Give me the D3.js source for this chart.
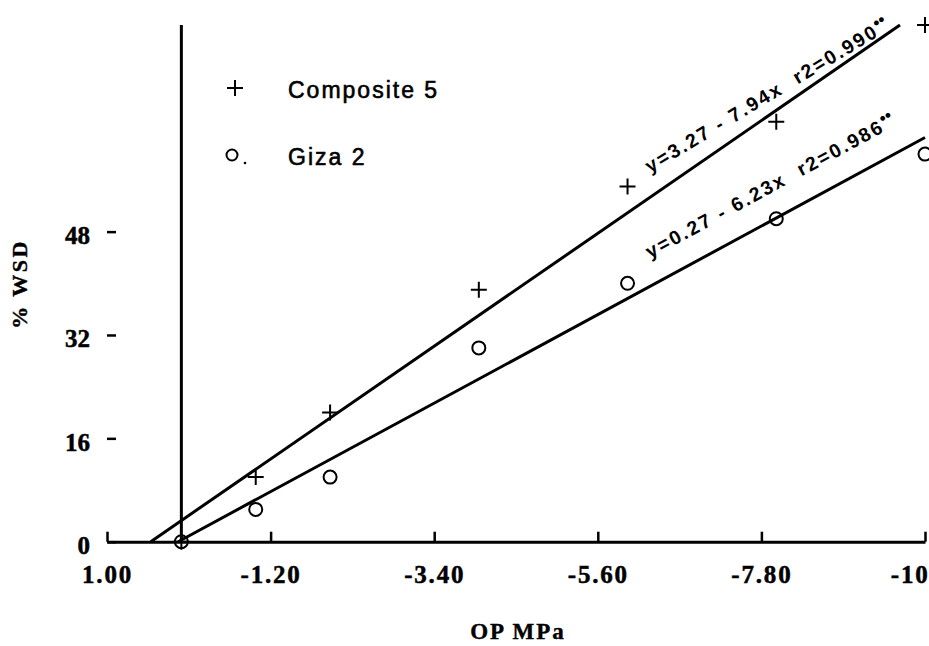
<!DOCTYPE html>
<html>
<head>
<meta charset="utf-8">
<script src="https://cdn.jsdelivr.net/npm/d3@7"></script>
<style>
  body { margin: 0; background: #fff; }
  svg { display: block; }
</style>
</head>
<body>
<div id="chart"></div>
<script>
// datos
const opMPa = [0, -1, -2, -4, -6, -8, -10];
const composite5 = [0, 10, 20, 39, 55, 65, 80];
const giza2 = [0, 5, 10, 30, 40, 50, 60];

const xTickValues = [1, -1.2, -3.4, -5.6, -7.8, -10];
const xTickLabels = ["1.00", "-1.20", "-3.40", "-5.60", "-7.80", "-10"];
const yTickValues = [0, 16, 32, 48];

// rectas de regresion (de las ecuaciones impresas)
const fitNames = ["Composite 5", "Giza 2"];
const fitIntercepts = [3.27, 0.27];
const fitSlopes = [-7.94, -6.23];
const fitR2 = ["0.990", "0.986"];

const width = 929, height = 646;
const serif = "Liberation Serif";
const sans = "Liberation Sans";

const svg = d3.select('#chart').append('svg')
    .attr('width', width)
    .attr('height', height);

const x = d3.scaleLinear().domain([1, -10]).range([107, 925]);
const y = d3.scaleLinear().domain([0, 80]).range([541.7, 24.9]);

// eje X
const xAxis = svg.append('g')
    .attr('transform', `translate(0,${y(0)})`)
    .call(d3.axisBottom(x)
        .tickValues(xTickValues)
        .tickFormat((d, i) => xTickLabels[i])
        .tickSize(-10)
        .tickSizeOuter(0)
        .tickPadding(24));
xAxis.attr('font-family', serif).attr('font-size', 25).attr('font-weight', 'bold');
xAxis.select('.domain').attr('stroke', '#000').attr('stroke-width', 3);
xAxis.selectAll('.tick line').attr('stroke', '#000').attr('stroke-width', 2.5);
xAxis.selectAll('.tick text')
    .attr('fill', '#000')
    .attr('stroke', '#000')
    .attr('stroke-width', 0.5)
    .attr('letter-spacing', 1.8);
xAxis.selectAll('.tick text').filter((d, i) => i === xTickValues.length - 1)
    .attr('text-anchor', 'end')
    .attr('x', 4);

// eje Y (solo marcas)
const yAxis = svg.append('g')
    .attr('transform', 'translate(116,0)')
    .call(d3.axisLeft(y)
        .tickValues(yTickValues)
        .tickSize(9)
        .tickPadding(17));
yAxis.attr('font-family', serif).attr('font-size', 25).attr('font-weight', 'bold');
yAxis.select('.domain').remove();
yAxis.selectAll('.tick line').attr('stroke', '#000').attr('stroke-width', 2.5);
yAxis.selectAll('.tick text')
    .attr('fill', '#000')
    .attr('stroke', '#000')
    .attr('stroke-width', 0.5)
    .attr('dy', '0.47em');

// linea vertical en x = 0
svg.append('line')
    .attr('x1', x(0)).attr('x2', x(0))
    .attr('y1', y(0)).attr('y2', y(80))
    .attr('stroke', '#000')
    .attr('stroke-width', 3);

// rectas de regresion
fitIntercepts.forEach((b, i) => {
    const m = fitSlopes[i];
    const x0 = -b / m;
    const x1 = Math.max(-10, (80 - b) / m);
    svg.append('line')
        .attr('x1', x(x0)).attr('y1', y(b + m * x0))
        .attr('x2', x(x1)).attr('y2', y(b + m * x1))
        .attr('stroke', '#000')
        .attr('stroke-width', 3);
});

// puntos Composite 5 (+)
svg.selectAll('.plus')
    .data(opMPa.map((d, i) => [d, composite5[i]]))
    .enter()
    .append('path')
    .attr('class', 'plus')
    .attr('transform', d => `translate(${x(d[0])},${y(d[1])})`)
    .attr('d', 'M-8,0H8M0,-8V8')
    .attr('stroke', '#000')
    .attr('stroke-width', 2);

// puntos Giza 2 (o)
svg.selectAll('.circ')
    .data(opMPa.map((d, i) => [d, giza2[i]]))
    .enter()
    .append('circle')
    .attr('class', 'circ')
    .attr('cx', d => x(d[0]))
    .attr('cy', d => y(d[1]))
    .attr('r', 6.5)
    .attr('fill', 'none')
    .attr('stroke', '#000')
    .attr('stroke-width', 2);

// ecuaciones sobre las rectas
const eqAngles = [31, 28.5];
const eqOffsets = [24, 27.5];
fitIntercepts.forEach((b, i) => {
    const xs = x.invert(650);
    const px = x(xs), py = y(b + fitSlopes[i] * xs) - eqOffsets[i];
    const t = svg.append('text')
        .attr('transform', `translate(${px},${py}) rotate(${-eqAngles[i]})`)
        .attr('fill', '#000')
        .attr('font-family', sans)
        .attr('font-weight', 'bold')
        .attr('font-size', 19.5)
        .attr('letter-spacing', 2.2)
        .style('white-space', 'pre');
    t.append('tspan')
        .text(`y=${b.toFixed(2)} - ${(-fitSlopes[i]).toFixed(2)}x  r2=${fitR2[i]}`);
    t.append('tspan')
        .attr('dy', '-0.4em')
        .attr('font-size', 17)
        .attr('letter-spacing', 0)
        .text('\u2022\u2022');
});

// leyenda
svg.append('path')
    .attr('transform', 'translate(235,88)')
    .attr('d', 'M-8,0H8M0,-8V8')
    .attr('stroke', '#000')
    .attr('stroke-width', 2);
svg.append('circle')
    .attr('cx', 232).attr('cy', 155).attr('r', 5.5)
    .attr('fill', 'none').attr('stroke', '#000').attr('stroke-width', 2);
svg.append('circle')
    .attr('cx', 245).attr('cy', 163).attr('r', 1.3)
    .attr('fill', '#000');

[[fitNames[0], 98], [fitNames[1], 165]].forEach(d => {
    svg.append('text')
        .attr('x', 288).attr('y', d[1])
        .attr('fill', '#000')
        .attr('stroke', '#000')
        .attr('stroke-width', 0.6)
        .attr('font-family', sans)
        .attr('font-size', 23)
        .attr('letter-spacing', 2)
        .text(d[0]);
});

// titulos de ejes
svg.append('text')
    .attr('x', 518).attr('y', 639)
    .attr('text-anchor', 'middle')
    .attr('fill', '#000')
    .attr('stroke', '#000')
    .attr('stroke-width', 0.4)
    .attr('font-family', serif)
    .attr('font-weight', 'bold')
    .attr('font-size', 23)
    .attr('letter-spacing', 2)
    .text('OP MPa');

svg.append('text')
    .attr('transform', 'translate(27,284) rotate(-90)')
    .attr('text-anchor', 'middle')
    .attr('fill', '#000')
    .attr('stroke', '#000')
    .attr('stroke-width', 0.4)
    .attr('font-family', serif)
    .attr('font-weight', 'bold')
    .attr('font-size', 22)
    .attr('letter-spacing', 2.5)
    .text('% WSD');
</script>
</body>
</html>
